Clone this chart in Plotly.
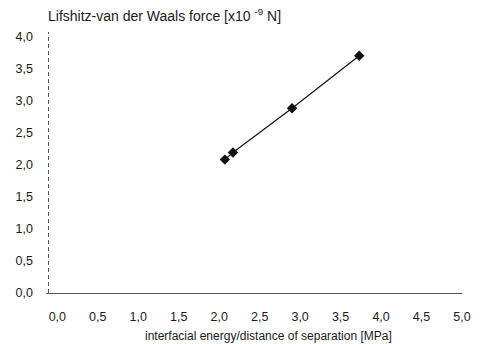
import plotly.graph_objects as go

# data
energy = [2.07, 2.17, 2.90, 3.73]        # interfacial energy/distance of separation [MPa]
force = [2.08, 2.19, 2.88, 3.70]         # Lifshitz-van der Waals force [x10^-9 N]
x_ticks = [0, 0.5, 1, 1.5, 2, 2.5, 3, 3.5, 4, 4.5, 5]
y_ticks = [0, 0.5, 1, 1.5, 2, 2.5, 3, 3.5, 4]

W, H = 482, 344
L, R, T, B = 46, 20, 32, 51

fig = go.Figure()
fig.add_trace(go.Scatter(
    x=energy, y=force, mode="lines+markers",
    line=dict(color="#111111", width=1.2),
    marker=dict(symbol="diamond", size=8, color="#111111"),
    showlegend=False,
))

font = dict(family="Liberation Sans, Arial, sans-serif", size=12.5, color="#1a1a1a")

fig.update_layout(
    width=W, height=H,
    margin=dict(l=L, r=R, t=T, b=B, pad=0),
    paper_bgcolor="white", plot_bgcolor="white",
    separators=", ",
    font=font,
    xaxis=dict(
        range=[-0.14, 5.0], tickvals=x_ticks, tickformat=".1f",
        showgrid=False, zeroline=False, showline=True, linecolor="#555555", linewidth=1,
        ticks="", ticklabelstandoff=12, tickfont=font,
    ),
    yaxis=dict(
        range=[0, 4.07], tickvals=y_ticks, tickformat=".1f",
        showgrid=False, zeroline=False, showline=False,
        ticks="", ticklabelstandoff=12, tickfont=font,
    ),
    shapes=[dict(
        type="line", xref="paper", yref="paper", x0=0.006, x1=0.006, y0=0, y1=1,
        layer="above",
        line=dict(color="#555555", width=1, dash="4px,3px"),
    )],
    annotations=[
        dict(text="Lifshitz-van der Waals force [x10 <sup>-9</sup> N]", xref="paper", yref="paper",
             x=0.0, y=1 + (T - 15) / (H - T - B), xanchor="left", yanchor="middle",
             showarrow=False, font=dict(family=font["family"], size=14, color="#1a1a1a")),
        dict(text="interfacial energy/distance of separation [MPa]", xref="paper", yref="paper",
             x=(268 - L) / (W - L - R), y=-(336 - (H - B)) / (H - T - B),
             xanchor="center", yanchor="middle", showarrow=False,
             font=dict(family=font["family"], size=12, color="#1a1a1a")),
    ],
)

fig.write_html("out.html")
